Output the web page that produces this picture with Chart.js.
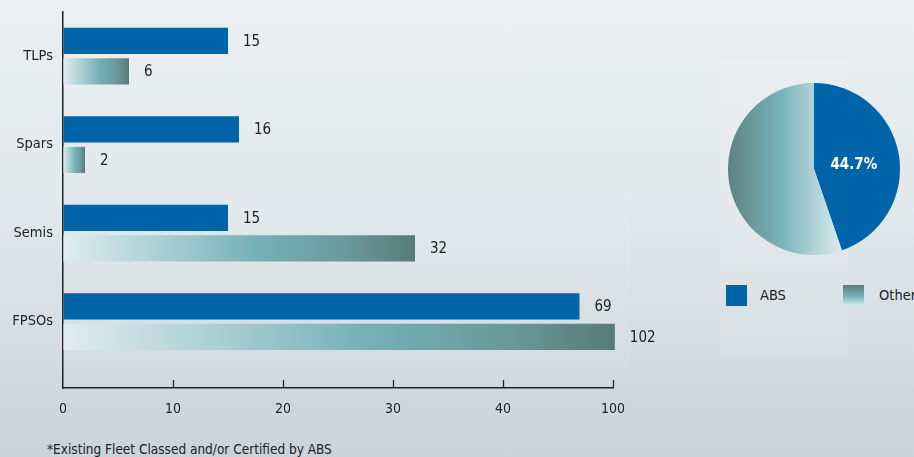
<!DOCTYPE html>
<html>
<head>
<meta charset="utf-8">
<script src="https://cdn.jsdelivr.net/npm/chart.js@4/dist/chart.umd.min.js"></script>
<style>
  html, body { margin: 0; padding: 0; }
  body {
    width: 914px; height: 457px; overflow: hidden; position: relative;
    font-family: "DejaVu Sans Condensed", "Liberation Sans", sans-serif;
    background: linear-gradient(180deg, #ebeff1 0%, #e2e8eb 45%, #d1dbe0 80%, #c8d4da 100%);
  }
  .panel { position: absolute; background: rgba(255,255,255,0.09); }
  #barWrap { position: absolute; left: 0; top: 0; width: 700px; height: 430px; }
  #pieWrap { position: absolute; left: 728px; top: 83px; width: 172px; height: 172px; }
  .legend { position: absolute; top: 285px; font-size: 14.5px; color: #222; line-height: 21px; }
  .swatch { position: absolute; width: 21px; height: 21px; }
  #note { position: absolute; left: 47px; top: 441px; font-size: 13.5px; color: #222; white-space: nowrap; }
</style>
</head>
<body>
<div class="panel" style="left:720px;top:60px;width:128px;height:297px;"></div>
<div class="panel" style="left:60px;top:190px;width:570px;height:180px;background:rgba(255,255,255,0.06)"></div>
<div id="barWrap"><canvas id="barChart"></canvas></div>
<div id="pieWrap"><canvas id="pieChart"></canvas></div>

<div class="swatch" style="left:726px;top:285px;background:#0064a8;"></div>
<div class="legend" style="left:760px;">ABS</div>
<div class="swatch" style="left:843px;top:285px;background:linear-gradient(180deg,#5b7d7b,#7ab3ba 55%,#d9ecee);"></div>
<div class="legend" style="left:879px;">Other</div>

<div id="note">*Existing Fleet Classed and/or Certified by ABS</div>

<script>
const categories = ["TLPs", "Spars", "Semis", "FPSOs"];
const absValues = [15, 16, 15, 69];
const otherValues = [6, 2, 32, 102];
const xTicks = [0, 10, 20, 30, 40, 100];
const seriesNames = ["ABS", "Other"];

const blue = "#0064a8";
const textColor = "#222";
const font = "'DejaVu Sans Condensed', 'Liberation Sans', sans-serif";

// axis is broken after 40: 40..100 is squeezed into one tick width
class BrokenScale extends Chart.LinearScale {
  static id = "broken";
  static defaults = Chart.LinearScale.defaults;
  toAxis(v) {
    return v <= 40 ? v : 40 + 10 * Math.sqrt((v - 40) / 60);
  }
  getPixelForValue(value) {
    return super.getPixelForValue(this.toAxis(value));
  }
}
Chart.register(BrokenScale);

function otherGradient(ctx) {
  const chart = ctx.chart;
  if (!chart.chartArea || !ctx.raw) return "#7ab3ba";
  const x = chart.scales.x;
  const x0 = x.getPixelForValue(0);
  const x1 = x.getPixelForValue(ctx.raw.x);
  const g = chart.ctx.createLinearGradient(x0, 0, x1, 0);
  g.addColorStop(0, "#e0edef");
  g.addColorStop(0.3, "#a6cdd2");
  g.addColorStop(0.55, "#76b0b7");
  g.addColorStop(0.8, "#6a9a9b");
  g.addColorStop(1, "#587b79");
  return g;
}

const valueLabels = {
  id: "valueLabels",
  afterDatasetsDraw(chart) {
    const c = chart.ctx;
    c.save();
    c.font = "15px " + font;
    c.fillStyle = textColor;
    c.textBaseline = "middle";
    chart.data.datasets.forEach((ds, i) => {
      chart.getDatasetMeta(i).data.forEach((bar, j) => {
        c.fillText(String(ds.data[j].x), bar.x + 15, bar.y + 1);
      });
    });
    c.restore();
  }
};

// small tick marks that stand up from the x axis line
const innerTicks = {
  id: "innerTicks",
  afterDraw(chart) {
    const x = chart.scales.x;
    const y0 = chart.chartArea.bottom;
    const c = chart.ctx;
    c.save();
    c.strokeStyle = textColor;
    c.lineWidth = 1.3;
    x.ticks.forEach((t, i) => {
      if (i === 0) return;
      const px = Math.round(x.getPixelForTick(i)) + 0.5;
      c.beginPath();
      c.moveTo(px, y0);
      c.lineTo(px, y0 - 8);
      c.stroke();
    });
    c.restore();
  }
};

new Chart(document.getElementById("barChart"), {
  type: "bar",
  data: {
    datasets: [
      {
        label: seriesNames[0],
        data: absValues.map((v, i) => ({ x: v, y: i })),
        backgroundColor: blue
      },
      {
        label: seriesNames[1],
        data: otherValues.map((v, i) => ({ x: v, y: i })),
        backgroundColor: otherGradient
      }
    ]
  },
  options: {
    indexAxis: "y",
    responsive: true,
    maintainAspectRatio: false,
    animation: false,
    clip: false,
    categoryPercentage: 0.69,
    barPercentage: 0.86,
    layout: { padding: { top: 12, right: 87, bottom: 12, left: 0 } },
    plugins: { legend: { display: false }, tooltip: { enabled: false } },
    scales: {
      x: {
        type: "broken",
        min: 0,
        max: 50,
        afterBuildTicks: s => { s.ticks = xTicks.map(v => ({ value: v })); },
        afterFit: s => { s.height = 30; },
        grid: { display: true, drawOnChartArea: false, drawTicks: false },
        border: { display: true, color: textColor, width: 1.5 },
        ticks: { color: textColor, font: { family: font, size: 14 }, padding: 13, maxRotation: 0 }
      },
      y: {
        type: "linear",
        reverse: true,
        offset: false,
        min: -0.5,
        max: 3.75,
        afterBuildTicks: s => { s.ticks = categories.map((c, i) => ({ value: i })); },
        afterFit: s => { s.width = 63; },
        grid: { display: false, offset: false },
        border: { display: true, color: textColor, width: 1.5 },
        ticks: {
          color: textColor,
          font: { family: font, size: 14.5 },
          padding: 2,
          callback: v => categories[v]
        }
      }
    }
  },
  plugins: [valueLabels, innerTicks]
});

// pie totals come from the bar series
const absTotal = absValues.reduce((a, b) => a + b, 0);
const otherTotal = otherValues.reduce((a, b) => a + b, 0);
const absShare = (absTotal / (absTotal + otherTotal) * 100).toFixed(1) + "%";

function pieColor(ctx) {
  if (ctx.dataIndex === 0) return blue;
  const chart = ctx.chart;
  if (!chart.chartArea) return "#7ab3ba";
  const a = chart.chartArea;
  const g = chart.ctx.createLinearGradient(a.left, 0, a.left + 115, 0);
  g.addColorStop(0, "#5c8381");
  g.addColorStop(0.45, "#78b2b9");
  g.addColorStop(1, "#dcedef");
  return g;
}

const pieLabel = {
  id: "pieLabel",
  afterDatasetsDraw(chart) {
    const arc = chart.getDatasetMeta(0).data[0];
    const mid = (arc.startAngle + arc.endAngle) / 2;
    const r = arc.outerRadius * 0.47;
    const c = chart.ctx;
    c.save();
    c.font = "bold 15px " + font;
    c.fillStyle = "#fff";
    c.textAlign = "center";
    c.textBaseline = "middle";
    c.fillText(absShare, arc.x + Math.cos(mid) * r, arc.y + Math.sin(mid) * r + 3);
    c.restore();
  }
};

new Chart(document.getElementById("pieChart"), {
  type: "pie",
  data: {
    labels: seriesNames,
    datasets: [{
      data: [absTotal, otherTotal],
      backgroundColor: pieColor,
      borderWidth: 0
    }]
  },
  options: {
    responsive: true,
    maintainAspectRatio: false,
    animation: false,
    plugins: { legend: { display: false }, tooltip: { enabled: false } }
  },
  plugins: [pieLabel]
});
</script>
</body>
</html>
